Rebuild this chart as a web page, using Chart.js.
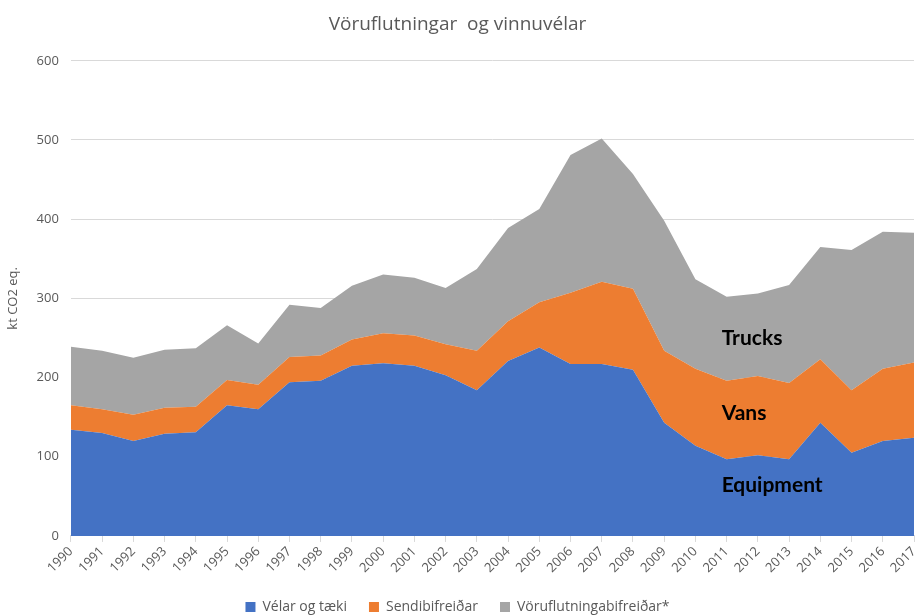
<!DOCTYPE html>
<html>
<head>
<meta charset="utf-8">
<script src="https://cdn.jsdelivr.net/npm/chart.js@4.4.0/dist/chart.umd.min.js"></script>
<style>
  html, body { margin: 0; padding: 0; background: #fff; }
  #wrap { width: 918px; height: 616px; }
</style>
</head>
<body>
<div id="wrap"><canvas id="chart" width="918" height="616"></canvas></div>
<script>
// Ár
const YEARS = ['1990','1991','1992','1993','1994','1995','1996','1997','1998','1999',
  '2000','2001','2002','2003','2004','2005','2006','2007','2008','2009',
  '2010','2011','2012','2013','2014','2015','2016','2017'];

// Losun, kt CO2 eq. (lesið af myndinni)
const VELAR = [134, 130, 120, 129, 131, 165, 160, 194, 196, 215,
  218, 215, 203, 184, 221, 238, 217, 217, 210, 143,
  114, 97, 102, 97, 143, 105, 120, 124];
const SENDI = [31, 30, 33, 33, 32, 32, 31, 32, 32, 33,
  38, 38, 39, 50, 50, 57, 90, 104, 102, 91,
  97, 99, 100, 96, 80, 79, 91, 95];
const VORU = [74, 74, 72, 73, 74, 69, 52, 66, 60, 68,
  74, 73, 71, 103, 118, 118, 174, 181, 145, 164,
  113, 106, 104, 124, 142, 177, 173, 164];

const Y_TICKS = [0, 100, 200, 300, 400, 500, 600];

// Merkingar inni í grafinu: [texti, árs-index, gildi]
const NOTES = [['Trucks', 21, 250], ['Vans', 21, 155], ['Equipment', 21, 64]];

const TEXT = '#595959';

const notesPlugin = {
  id: 'notes',
  afterDatasetsDraw(chart) {
    const { ctx, scales } = chart;
    ctx.save();
    ctx.font = 'bold 21px Lato, "Liberation Sans", sans-serif';
    ctx.fillStyle = '#000';
    ctx.textAlign = 'left';
    ctx.textBaseline = 'middle';
    NOTES.forEach(([txt, i, v]) => {
      ctx.fillText(txt, scales.x.getPixelForValue(i) - 5, scales.y.getPixelForValue(v));
    });
    ctx.restore();
  }
};

const ds = (label, data, color, fill) => ({
  label: label,
  data: data,
  backgroundColor: color,
  borderColor: color,
  borderWidth: 0,
  pointRadius: 0,
  tension: 0,
  fill: fill
});

new Chart(document.getElementById('chart').getContext('2d'), {
  type: 'line',
  data: {
    labels: YEARS,
    datasets: [
      ds('Vélar og tæki', VELAR, '#4472C4', 'origin'),
      ds('Sendibifreiðar', SENDI, '#ED7D31', '-1'),
      ds('Vöruflutningabifreiðar*', VORU, '#A5A5A5', '-1')
    ]
  },
  options: {
    responsive: false,
    animation: false,
    layout: { padding: { left: 1, right: 4, top: 13, bottom: -8 } },
    plugins: {
      title: {
        display: true,
        text: 'Vöruflutningar  og vinnuvélar',
        color: TEXT,
        font: { family: '"Open Sans", sans-serif', size: 19, weight: 'normal' },
        padding: { top: 0, bottom: 25 }
      },
      legend: {
        position: 'bottom',
        labels: {
          color: TEXT,
          boxWidth: 10,
          boxHeight: 10,
          padding: 22,
          font: { family: '"Open Sans", sans-serif', size: 14 }
        }
      },
      tooltip: { enabled: false }
    },
    scales: {
      x: {
        // síðasti merkimiðinn á ekki að ýta teiknisvæðinu inn
        afterFit: axis => { axis.paddingRight = 0; },
        grid: { display: true, drawOnChartArea: false, tickLength: 6, color: '#D9D9D9' },
        border: { color: '#D9D9D9' },
        ticks: {
          color: TEXT,
          minRotation: 45,
          maxRotation: 45,
          autoSkip: false,
          padding: 2,
          font: { family: '"Open Sans", sans-serif', size: 13 }
        }
      },
      y: {
        stacked: true,
        min: 0,
        max: 600,
        afterBuildTicks: axis => { axis.ticks = Y_TICKS.map(v => ({ value: v })); },
        grid: { color: '#D9D9D9', drawTicks: false },
        border: { display: false },
        title: {
          display: true,
          text: 'kt CO2 eq.',
          color: TEXT,
          font: { family: '"Open Sans", sans-serif', size: 13 }
        },
        ticks: {
          color: TEXT,
          padding: 12,
          font: { family: '"Open Sans", sans-serif', size: 13 }
        }
      }
    }
  },
  plugins: [notesPlugin]
});
</script>
</body>
</html>
